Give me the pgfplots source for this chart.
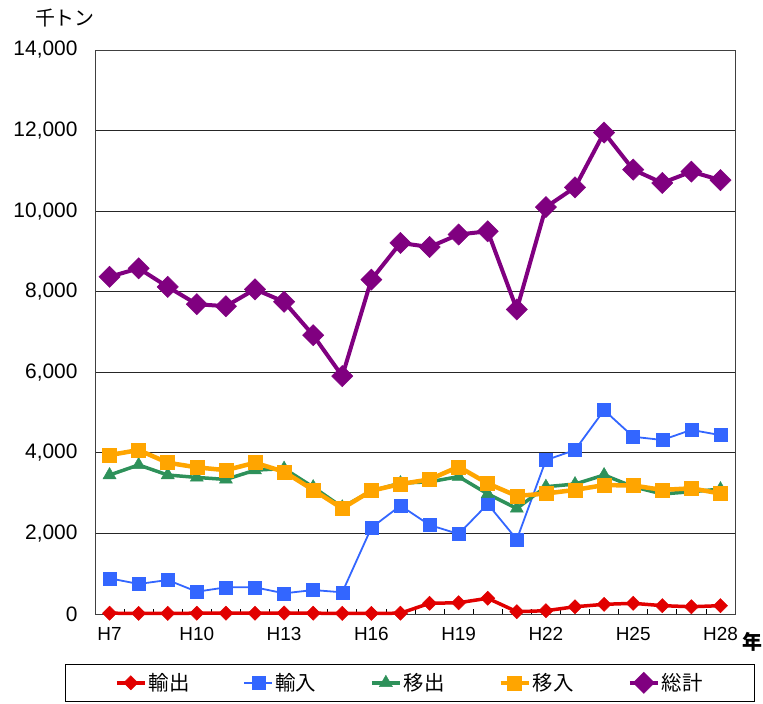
\documentclass[border=0pt]{standalone}
\usepackage{fontspec}
\setmainfont{Liberation Sans}
\newfontfamily\cjk{Noto Sans CJK JP}
\usepackage{pgfplots}
\pgfplotsset{compat=1.18}
\definecolor{cred}{RGB}{225,0,0}
\definecolor{cblue}{RGB}{51,102,255}
\definecolor{cgreen}{RGB}{46,145,90}
\definecolor{corange}{RGB}{255,165,0}
\definecolor{cpurple}{RGB}{128,0,128}
\begin{document}
\begin{tikzpicture}
\useasboundingbox (0bp,0bp) rectangle (763bp,704bp);
\begin{axis}[
  at={(95bp,90bp)}, anchor=south west,
  scale only axis, width=640bp, height=564bp,
  xmin=-0.5, xmax=21.5, ymin=0, ymax=14000,
  xtick={0,3,...,21}, xticklabels={H7,H10,H13,H16,H19,H22,H25,H28},
  minor xtick={-0.5,0.5,...,21.5},
  ytick={0,2000,...,14000},
  scaled y ticks=false,
  /pgf/number format/.cd, 1000 sep={,}, assume math mode=true, /pgfplots/.cd,
  major tick length=0pt, minor tick length=5bp,
  tick align=inside, xtick pos=bottom, ytick pos=left,
  minor tick style={black, line width=0.8bp},
  ymajorgrids, major grid style={black!85, line width=0.8bp},
  axis line style={black!75, line width=0.9bp},
  xticklabel style={font=\fontsize{19}{22}\selectfont, yshift=-10bp},
  yticklabel style={font=\fontsize{21}{24}\selectfont, xshift=-14bp},
  legend columns=5,
  legend style={at={(0.492,-0.122)}, anchor=center, draw=black, line width=0.8bp,
    font=\cjk\fontsize{20.5}{23}\selectfont, inner xsep=50bp, inner ysep=7.5bp,
    nodes={inner xsep=2bp},
    /tikz/every even column/.append style={column sep=52bp}},
  legend image code/.code={\draw[mark repeat=2,mark phase=2] plot coordinates {(0bp,0bp)(14bp,0bp)(28bp,0bp)};},
  clip=false,
]
\addplot[cred, line width=3.5bp, mark=square*, mark size=5bp, mark options={rotate=45, line width=0.5bp}]
 coordinates {(0,20)(1,15)(2,15)(3,20)(4,20)(5,20)(6,25)(7,20)(8,15)(9,15)(10,20)(11,265)(12,280)(13,390)(14,57)(15,82)(16,180)(17,240)(18,265)(19,207)(20,180)(21,207)};
\addlegendentry{輸出}
\addplot[cblue, line width=1.8bp, mark=square*, mark size=6.5bp, mark options={line width=0.5bp}]
 coordinates {(0,886)(1,745)(2,844)(3,553)(4,662)(5,662)(6,513)(7,595)(8,538)(9,2140)(10,2690)(11,2210)(12,1985)(13,2730)(14,1850)(15,3820)(16,4070)(17,5060)(18,4400)(19,4320)(20,4570)(21,4440)};
\addlegendentry{輸入}
\addplot[cgreen, line width=3.5bp, mark=triangle*, mark size=7.5bp, mark options={line width=0.5bp}]
 coordinates {(0,3450)(1,3700)(2,3450)(3,3390)(4,3340)(5,3570)(6,3610)(7,3150)(8,2650)(9,3050)(10,3250)(11,3280)(12,3410)(13,2980)(14,2620)(15,3160)(16,3225)(17,3450)(18,3160)(19,2980)(20,3035)(21,3100)};
\addlegendentry{移出}
\addplot[corange, line width=4.5bp, mark=square*, mark size=7bp, mark options={line width=0.5bp}]
 coordinates {(0,3945)(1,4070)(2,3755)(3,3640)(4,3570)(5,3755)(6,3530)(7,3080)(8,2620)(9,3060)(10,3225)(11,3340)(12,3655)(13,3240)(14,2930)(15,2990)(16,3080)(17,3200)(18,3190)(19,3080)(20,3120)(21,2990)};
\addlegendentry{移入}
\addplot[cpurple, line width=4bp, mark=square*, mark size=7.5bp, mark options={rotate=45, line width=0.5bp}]
 coordinates {(0,8370)(1,8580)(2,8120)(3,7690)(4,7640)(5,8060)(6,7750)(7,6920)(8,5905)(9,8300)(10,9210)(11,9110)(12,9420)(13,9500)(14,7560)(15,10100)(16,10590)(17,11950)(18,11030)(19,10700)(20,10980)(21,10770)};
\addlegendentry{総計}
\node[font=\cjk\fontsize{20}{22}\selectfont] at (rel axis cs:-0.047,1.057) {千トン};
\node[font=\cjk\bfseries\fontsize{20}{22}\selectfont] at (rel axis cs:1.028,-0.05) {年};
\end{axis}
\end{tikzpicture}
\end{document}
